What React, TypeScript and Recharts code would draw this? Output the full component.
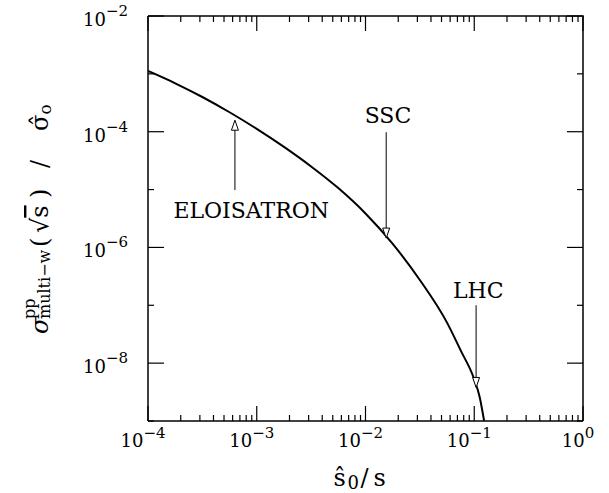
import React from 'react';
import { LineChart, Line, XAxis, YAxis, ReferenceLine, ReferenceDot, Label } from 'recharts';

// curve (s0/s vs sigma / sigma0)
const sRatio = [1e-4, 1.78e-4, 3.16e-4, 5.62e-4, 1e-3, 1.78e-3, 3.16e-3, 5.62e-3, 1e-2, 1.78e-2, 3.16e-2, 5.62e-2, 7.5e-2, 0.1, 0.112, 0.1233];
const sigmaRatio = [1.12e-3, 6.87e-4, 3.98e-4, 2.17e-4, 1.12e-4, 5.46e-5, 2.51e-5, 1.06e-5, 3.86e-6, 1.15e-6, 2.74e-7, 5.01e-8, 1.66e-8, 5.25e-9, 2.63e-9, 1e-9];

// collider annotations
const colliders = ['ELOISATRON', 'SSC', 'LHC'];
const labelX = [8.9e-4, 1.61e-2, 0.109];
const labelY = [4.5e-6, 1.94e-4, 1.82e-7];
const arrowX = [6.3e-4, 1.55e-2, 0.104];
const arrowFrom = [9.8e-6, 9.8e-5, 1e-7];
const arrowTo = [1.58e-4, 1.45e-6, 3.8e-9];

const xDomain = [1e-4, 1];
const yDomain = [1e-9, 1e-2];
const xDecades = [1e-4, 1e-3, 1e-2, 1e-1, 1];
const xMinorSteps = [2, 3, 4, 5, 6, 7, 8, 9];
const yDecades = [1e-9, 1e-8, 1e-7, 1e-6, 1e-5, 1e-4, 1e-3, 1e-2];
const yLabelled = [-8, -6, -4, -2];

const xTicks: number[] = [];
xDecades.forEach((d, i) => {
  xTicks.push(d);
  if (i < xDecades.length - 1) xMinorSteps.forEach((m) => xTicks.push(m * d));
});

const data = sRatio.map((x, i) => ({ x, y: sigmaRatio[i] }));

const W = 609;
const H = 493;
const MARGIN = { top: 16, right: 26, bottom: 0, left: 0 };
const Y_AXIS_W = 148;
const X_AXIS_H = 72;
const PLOT_W = W - MARGIN.left - MARGIN.right - Y_AXIS_W;

const FONT = 'DejaVu Serif';
const exp10 = (v: number) => Math.round(Math.log10(v));
const isDecade = (v: number) => Math.abs(Math.log10(v) - exp10(v)) < 1e-6;
const expText = (e: number) => (e < 0 ? '\u2212' + Math.abs(e) : String(e));
const logFrac = (v: number, d: number[]) =>
  (Math.log10(v) - Math.log10(d[0])) / (Math.log10(d[1]) - Math.log10(d[0]));

function BottomTick(props: any) {
  const { x, y, payload } = props;
  const major = isDecade(payload.value);
  return (
    <g>
      <line x1={x} x2={x} y1={y} y2={y - (major ? 15 : 6)} stroke="#000" strokeWidth={1.2} />
      {major && (
        <text x={x - 5} y={y + 26} textAnchor="middle" fontFamily={FONT} fontSize={18} fill="#000">
          <tspan>10</tspan>
          <tspan dy={-9} fontSize={15}>{expText(exp10(payload.value))}</tspan>
        </text>
      )}
    </g>
  );
}

function LeftTick(props: any) {
  const { x, y, payload } = props;
  const e = exp10(payload.value);
  const major = yLabelled.includes(e);
  return (
    <g>
      <line x1={x} x2={x + (major ? 16 : 6)} y1={y} y2={y} stroke="#000" strokeWidth={1.2} />
      {major && (
        <text x={x - 20} y={y + 10} textAnchor="end" fontFamily={FONT} fontSize={18} fill="#000">
          <tspan>10</tspan>
          <tspan dy={-10} fontSize={15}>{expText(e)}</tspan>
        </text>
      )}
    </g>
  );
}

function Arrow(props: any) {
  const { x1, y1, x2, y2 } = props;
  const dir = y2 > y1 ? 1 : -1;
  const len = 10;
  const hw = 3.5;
  return (
    <g>
      <line x1={x1} y1={y1} x2={x2} y2={y2 - dir * len} stroke="#000" strokeWidth={1} />
      <polygon
        points={`${x2},${y2} ${x2 - hw},${y2 - dir * len} ${x2 + hw},${y2 - dir * len}`}
        fill="#fff"
        stroke="#000"
        strokeWidth={1}
      />
    </g>
  );
}

function XTitle(props: any) {
  const { viewBox } = props;
  const cx = viewBox.x + viewBox.width / 2;
  return (
    <text y={486} fontFamily={FONT} fontSize={24} fill="#000">
      <tspan x={cx - 32}>ŝ</tspan>
      <tspan x={cx - 18} dy={3} fontSize={18}>0</tspan>
      <tspan x={cx - 5} dy={-3}>/</tspan>
      <tspan x={cx + 8}>s</tspan>
    </text>
  );
}

// y title plus the top/right edges of the frame (drawn from the y-axis box)
function YTitleAndFrame(props: any) {
  const vb = props.viewBox || {};
  const left = (vb.x ?? 0) + (vb.width ?? Y_AXIS_W);
  const top = vb.y ?? MARGIN.top;
  const height = vb.height ?? H - MARGIN.top - X_AXIS_H;
  const right = left + PLOT_W;
  return (
    <g>
      <path d={`M${left},${top} H${right} V${top + height}`} fill="none" stroke="#000" strokeWidth={1.5} />
      {xTicks.map((t) => {
        const px = left + logFrac(t, xDomain) * PLOT_W;
        return <line key={'t' + t} x1={px} x2={px} y1={top} y2={top + (isDecade(t) ? 15 : 6)} stroke="#000" strokeWidth={1.2} />;
      })}
      {yDecades.map((t) => {
        const py = top + height - logFrac(t, yDomain) * height;
        return <line key={'r' + t} x1={right} x2={right - (yLabelled.includes(exp10(t)) ? 16 : 6)} y1={py} y2={py} stroke="#000" strokeWidth={1.2} />;
      })}
      <text transform="rotate(-90)" fontFamily={FONT} fontSize={24} fill="#000">
        <tspan x={-334} y={48} fontStyle="italic">σ</tspan>
        <tspan x={-319} y={35} fontSize={16}>pp</tspan>
        <tspan x={-319} y={50} fontSize={16}>multi−w</tspan>
        <tspan x={-247} y={48}>(</tspan>
        <tspan x={-233}>√</tspan>
        <tspan style={{ textDecoration: 'overline' }}>s</tspan>
        <tspan x={-198}>)</tspan>
        <tspan x={-168}>/</tspan>
        <tspan x={-131}>σ̂</tspan>
        <tspan dy={3} fontSize={17}>o</tspan>
      </text>
    </g>
  );
}

export default function App() {
  return (
    <div style={{ position: 'absolute', left: 0, top: 0, background: '#fff' }}>
      <LineChart width={W} height={H} data={data} margin={MARGIN}>
        <XAxis
          dataKey="x"
          type="number"
          scale="log"
          domain={xDomain}
          allowDataOverflow
          ticks={xTicks}
          interval={0}
          tick={<BottomTick />}
          tickLine={false}
          tickSize={0}
          tickMargin={0}
          height={X_AXIS_H}
          axisLine={{ stroke: '#000', strokeWidth: 1.5 }}
        >
          <Label content={<XTitle />} />
        </XAxis>
        <YAxis
          type="number"
          scale="log"
          domain={yDomain}
          allowDataOverflow
          ticks={yDecades}
          interval={0}
          tick={<LeftTick />}
          tickLine={false}
          tickSize={0}
          tickMargin={0}
          width={Y_AXIS_W}
          axisLine={{ stroke: '#000', strokeWidth: 1.5 }}
        >
          <Label content={<YTitleAndFrame />} />
        </YAxis>
        <Line
          dataKey="y"
          type="monotone"
          dot={false}
          stroke="#000"
          strokeWidth={2}
          isAnimationActive={false}
        />
        {colliders.map((name, i) => (
          <ReferenceLine
            key={'a' + name}
            segment={[{ x: arrowX[i], y: arrowFrom[i] }, { x: arrowX[i], y: arrowTo[i] }]}
            shape={Arrow}
          />
        ))}
        {colliders.map((name, i) => (
          <ReferenceDot
            key={'l' + name}
            x={labelX[i]}
            y={labelY[i]}
            r={0}
            shape={(p: any) => (
              <text x={p.cx} y={p.cy + 8} textAnchor="middle" fontFamily={FONT} fontSize={22} fill="#000">
                {name}
              </text>
            )}
          />
        ))}
      </LineChart>
    </div>
  );
}
